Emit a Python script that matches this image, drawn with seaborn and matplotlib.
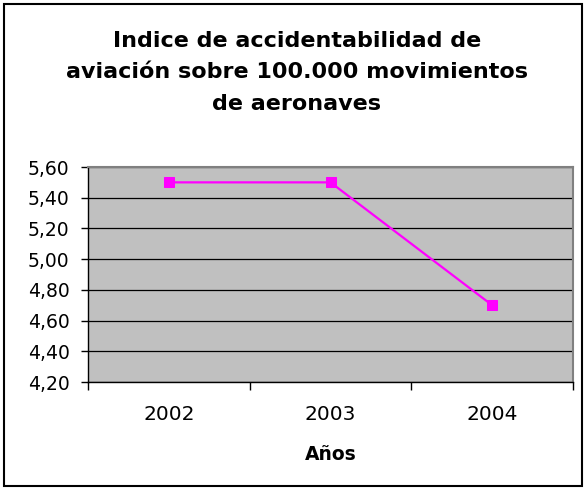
import matplotlib
matplotlib.use("Agg")
import matplotlib.pyplot as plt
import seaborn as sns
import pandas as pd
from matplotlib.patches import Rectangle
from matplotlib.ticker import FixedLocator

years = ["2002", "2003", "2004"]
values = [5.50, 5.50, 4.70]
yticks = [4.20, 4.40, 4.60, 4.80, 5.00, 5.20, 5.40, 5.60]
ytick_labels = ["4,20", "4,40", "4,60", "4,80", "5,00", "5,20", "5,40", "5,60"]
title_lines = ["Indice de accidentabilidad de",
               "aviación sobre 100.000 movimientos",
               "de aeronaves"]
xlabel = "Años"

sns.set_style("white")
plt.rcParams['font.family'] = ['DejaVu Sans']
plt.rcParams['text.color'] = 'black'
plt.rcParams['axes.labelcolor'] = 'black'
plt.rcParams['xtick.color'] = 'black'
plt.rcParams['ytick.color'] = 'black'

df = pd.DataFrame({"x": range(len(years)), "y": values})

W, H = 586, 490
fig = plt.figure(figsize=(W / 100, H / 100), dpi=100)
ax = fig.add_axes([88 / W, 1 - 382 / H, (573 - 88) / W, (382 - 167) / H])

# outer frame
fig.patches.append(Rectangle((4 / W, 4 / H), (582 - 4) / W, (486 - 4) / H,
                             transform=fig.transFigure, fill=False,
                             edgecolor="black", linewidth=1.5))

ax.set_facecolor("#C0C0C0")
sns.lineplot(data=df, x="x", y="y", ax=ax, color="#FF00FF", linewidth=1.6,
             marker="s", markersize=7.5, markeredgecolor="#FF00FF", zorder=3)

ax.set_xlim(-0.5, 2.5)
ax.set_ylim(4.20, 5.60)
ax.set_yticks(yticks)
ax.set_yticklabels(ytick_labels, fontsize=13.5, color="black")
ax.set_xticks(range(len(years)))
ax.set_xticklabels(years, fontsize=14.5, color="black")
ax.xaxis.set_minor_locator(FixedLocator([-0.5, 0.5, 1.5, 2.5]))
ax.tick_params(axis="x", which="major", length=0, pad=16.5, bottom=True)
ax.tick_params(axis="x", which="minor", length=6, width=1, color="black",
               direction="out", bottom=True)
ax.tick_params(axis="y", length=5.25, width=1, color="black", direction="out",
               pad=8, left=True)
ax.grid(True, axis="y", color="black", linewidth=0.9)
ax.set_axisbelow(True)

for s in ["top", "right"]:
    ax.spines[s].set_color("#808080")
    ax.spines[s].set_linewidth(1.5)
for s in ["left", "bottom"]:
    ax.spines[s].set_color("black")
    ax.spines[s].set_linewidth(1)

ax.set_xlabel(xlabel, fontsize=13.5, fontweight="bold", labelpad=15, color="black")
ax.set_ylabel("")

for line, base in zip(title_lines, [47, 78.5, 110]):
    fig.text(297 / W, 1 - base / H, line, ha="center", va="baseline",
             fontsize=16, fontweight="bold", color="black")

fig.savefig("out.png", dpi=100, facecolor="white")
